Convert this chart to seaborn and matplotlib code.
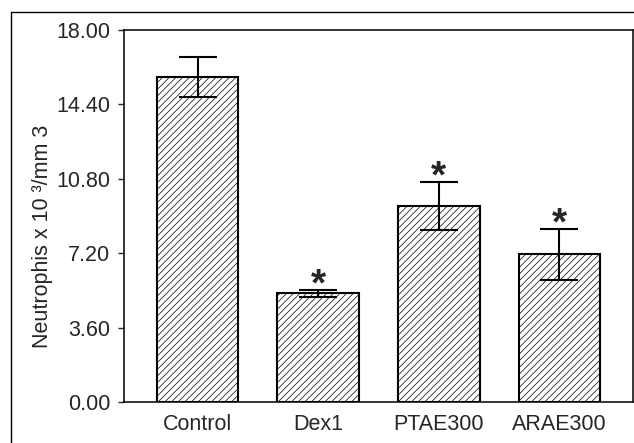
import numpy as np
import pandas as pd
import matplotlib
matplotlib.use("Agg")
from matplotlib import pyplot as plt
from matplotlib.lines import Line2D
from matplotlib.ticker import FormatStrFormatter
import seaborn as sns

groups = ["Control", "Dex1", "PTAE300", "ARAE300"]
means = [15.72, 5.26, 9.48, 7.14]
sem = [0.95, 0.17, 1.15, 1.22]
significant = [False, True, True, True]
yticks = [0.0, 3.6, 7.2, 10.8, 14.4, 18.0]

sns.set_style("ticks")
plt.rcParams["font.family"] = ["Liberation Sans", "DejaVu Sans"]
plt.rcParams["hatch.linewidth"] = 0.5
plt.rcParams["hatch.color"] = "#5a5a5a"

df = pd.DataFrame({"group": groups, "value": means})

fig = plt.figure(figsize=(6.34, 4.43), dpi=100)
ax = fig.add_axes([124 / 634, 1 - 402 / 443, 509 / 634, 372 / 443])

sns.barplot(data=df, x="group", y="value", ax=ax, color="white",
            edgecolor="black", linewidth=1.5, width=0.675, errorbar=None,
            saturation=1)
for p in ax.patches:
    p.set_hatch("/////")
    if hasattr(p, "set_hatchcolor"):
        p.set_hatchcolor("#5a5a5a")

x = np.arange(len(groups))
ax.errorbar(x, means, yerr=sem, fmt="none", ecolor="black",
            elinewidth=1.5, capsize=14, capthick=1.5, zorder=5)

for i in range(len(groups)):
    if significant[i]:
        ax.annotate("*", (x[i], means[i] + sem[i]), xytext=(0, -4),
                    textcoords="offset points", ha="center", va="baseline",
                    fontsize=28, fontweight="bold")

ax.set_xlim(-0.61, 3.61)
ax.set_ylim(0, 18)
ax.set_yticks(yticks)
ax.yaxis.set_major_formatter(FormatStrFormatter("%.2f"))
ax.set_xlabel("")
ax.set_ylabel("Neutrophis x 10 \u00b3/mm 3", fontsize=15.5)
ax.yaxis.set_label_coords(-0.14, 0.446)
ax.tick_params(axis="y", labelsize=15.5, length=4, width=1, pad=6)
ax.tick_params(axis="x", labelsize=15.5, length=0, pad=9)
for s in ax.spines.values():
    s.set_visible(True)
    s.set_linewidth(1.1)
    s.set_color("black")

# outer frame (left and top edges visible)
fig.add_artist(Line2D([11 / 634, 11 / 634], [0, 1 - 12 / 443],
                      transform=fig.transFigure, color="black", lw=1))
fig.add_artist(Line2D([11 / 634, 1], [1 - 12 / 443, 1 - 12 / 443],
                      transform=fig.transFigure, color="black", lw=1))

fig.savefig("out.png", dpi=100)
